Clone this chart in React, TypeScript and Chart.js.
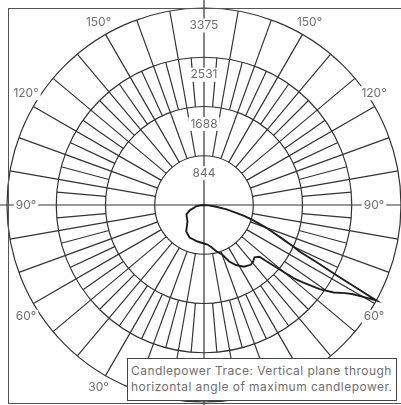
import React, { useEffect, useRef } from "react";
import { Chart, registerables } from "chart.js";

Chart.register(...registerables);

// Radial rings (candela) and their printed labels
const RING_VALUES = [0, 843.75, 1687.5, 2531.25, 3375];
const RING_LABELS = ["", "844", "1688", "2531", "3375"];

// Angle labels (degrees from nadir), printed on both sides
const ANGLE_LABELS = [150, 120, 90, 60, 30];

// Candlepower trace: angle from nadir (+ = right side) and candela
const TRACE_ANGLES = [
  -180, -90, -85, -80, -75, -70, -62, -55, -45, -34,
  -24, -10, 0, 5, 10, 15, 20, 24, 28, 33,
  38, 41, 44, 47, 48, 49, 50, 51, 52, 54,
  56, 58, 59, 60, 61, 62, 63, 64, 65, 67,
  70, 73, 75, 79, 82, 86, 90, 180,
];
const TRACE_CANDELA = [
  0, 0, 60, 150, 170, 255, 340, 360, 400, 545,
  610, 635, 660, 680, 735, 820, 900, 1060, 1165, 1260,
  1300, 1285, 1245, 1300, 1440, 1600, 1800, 2020, 2160, 2450,
  2680, 2850, 2960, 3150, 3375, 2600, 2190, 1820, 1700, 1420,
  1130, 860, 690, 395, 190, 80, 0, 0,
];

const LEGEND_LINES = [
  "Candlepower Trace: Vertical plane through",
  "horizontal angle of maximum candlepower.",
];

const DEGREES = 360;
const MAJOR_SPOKE = 10;
const MINOR_SPOKE = 5;
const GRID_COLOR = "#333333";
const TEXT_COLOR = "#6f6f6f";
const FONT = "Inter, 'Open Sans', sans-serif";

const toIndex = (theta: number) => (((180 - theta) % 360) + 360) % 360;

const decorPlugin = {
  id: "polarDecor",
  beforeDatasetsDraw(chart: any) {
    const s = chart.scales.r;
    const ctx = chart.ctx as CanvasRenderingContext2D;
    const cx = s.xCenter;
    const cy = s.yCenter;
    const R = s.drawingArea;
    ctx.save();
    ctx.strokeStyle = GRID_COLOR;
    ctx.lineWidth = 1.2;
    // spokes
    for (let deg = 0; deg < DEGREES; deg += MINOR_SPOKE) {
      if (deg % 90 === 0) continue;
      const major = deg % MAJOR_SPOKE === 0;
      const from = major ? RING_VALUES[1] : RING_VALUES[2];
      const to = major ? RING_VALUES[4] : RING_VALUES[3];
      const a = s.getPointPositionForValue(deg, from);
      const b = s.getPointPositionForValue(deg, to);
      ctx.beginPath();
      ctx.moveTo(a.x, a.y);
      ctx.lineTo(b.x, b.y);
      ctx.stroke();
    }
    // axes through the centre
    ctx.beginPath();
    ctx.moveTo(0, cy);
    ctx.lineTo(chart.width, cy);
    ctx.moveTo(cx, 0);
    ctx.lineTo(cx, chart.height);
    ctx.stroke();

    ctx.font = `12px ${FONT}`;
    ctx.textAlign = "center";
    ctx.textBaseline = "middle";
    const label = (text: string, x: number, y: number) => {
      const w = ctx.measureText(text).width;
      ctx.fillStyle = "#ffffff";
      ctx.fillRect(x - w / 2 - 2, y - 7, w + 4, 14);
      ctx.fillStyle = TEXT_COLOR;
      ctx.fillText(text, x, y);
    };
    // ring labels along the vertical axis
    RING_VALUES.forEach((v, i) => {
      if (!RING_LABELS[i]) return;
      const d = s.getDistanceFromCenterForValue(v);
      label(RING_LABELS[i], cx, cy - d + 17.5);
    });
    // angle labels on both sides (60°/120° nudged slightly toward horizontal)
    ANGLE_LABELS.forEach((deg) => {
      const nudge = deg === 60 ? -2 : deg === 120 ? 2 : 0;
      [1, -1].forEach((side) => {
        const theta = side * (deg + nudge);
        const p = s.getPointPosition(toIndex(theta), R + 14);
        const x = Math.min(Math.max(p.x, cx - 178), cx + 170);
        label(`${deg}°`, x, p.y);
      });
    });
    ctx.restore();
  },
};

export default function App() {
  const canvasRef = useRef<HTMLCanvasElement | null>(null);

  useEffect(() => {
    if (!canvasRef.current) return;
    const labels = Array.from({ length: DEGREES }, (_, i) => String(i));
    const data: (number | null)[] = new Array(DEGREES).fill(null);
    TRACE_ANGLES.forEach((a, i) => {
      data[toIndex(a)] = TRACE_CANDELA[i];
    });
    const chart = new Chart(canvasRef.current, {
      type: "radar",
      data: {
        labels,
        datasets: [
          {
            data,
            borderColor: "#1e1e1e",
            borderWidth: 1.9,
            pointRadius: 0,
            fill: false,
            tension: 0,
            spanGaps: true,
          },
        ],
      },
      options: {
        responsive: false,
        animation: false,
        layout: { padding: { left: 7, right: 0, top: 8, bottom: 2 } },
        plugins: { legend: { display: false }, tooltip: { enabled: false } },
        scales: {
          r: {
            min: 0,
            max: RING_VALUES[RING_VALUES.length - 1],
            startAngle: 0,
            afterBuildTicks: (scale: any) => {
              scale.ticks = RING_VALUES.map((v) => ({ value: v }));
            },
            ticks: { display: false },
            grid: { circular: true, color: GRID_COLOR, lineWidth: 1.2 },
            angleLines: { display: false },
            pointLabels: { display: false },
          },
        },
      },
      plugins: [decorPlugin],
    } as any);
    return () => chart.destroy();
  }, []);

  return (
    <div
      style={{
        position: "fixed",
        left: 0,
        top: 0,
        width: 401,
        height: 405,
        overflow: "hidden",
        background: "#fff",
      }}
    >
      <canvas
        ref={canvasRef}
        width={402}
        height={405}
        style={{ position: "absolute", left: 0, top: 0 }}
      />
      <div
        style={{
          position: "absolute",
          left: 8,
          top: 8,
          width: 400,
          height: 396,
          boxSizing: "border-box",
          border: "1px solid #555",
          pointerEvents: "none",
        }}
      />
      <div
        style={{
          position: "absolute",
          left: 127,
          top: 358,
          width: 270,
          height: 43,
          boxSizing: "border-box",
          border: "1.5px solid #444",
          background: "#fff",
          padding: "4px 2px 0 3px",
          fontFamily: FONT,
          fontSize: 12,
          letterSpacing: "0.45px",
          lineHeight: "16px",
          color: TEXT_COLOR,
          whiteSpace: "nowrap",
          overflow: "hidden",
        }}
      >
        {LEGEND_LINES.map((l) => (
          <div key={l}>{l}</div>
        ))}
      </div>
    </div>
  );
}
